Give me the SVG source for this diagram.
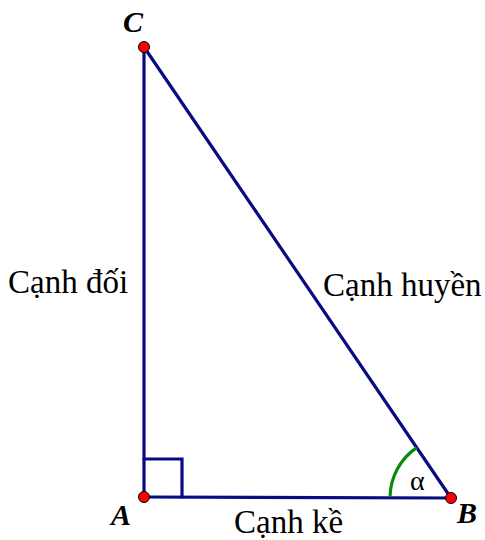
<svg xmlns="http://www.w3.org/2000/svg" width="485" height="540" viewBox="0 0 485 540">
<style>
.edge{stroke:#0a0a82;stroke-width:3.2;fill:none;stroke-linecap:round}
.pt{fill:#ff0000;stroke:#000;stroke-width:1}
.lbl{font-family:"Liberation Serif","Times New Roman",serif;font-size:33px;fill:#000}
.vx{font-family:"Liberation Serif","Times New Roman",serif;font-size:30px;font-weight:bold;font-style:italic;fill:#000}
</style>
<rect width="485" height="540" fill="#fff"/>
<g id="connectors">
<line class="edge" x1="144" y1="47" x2="144" y2="497"/>
<line class="edge" x1="144" y1="497" x2="451" y2="498"/>
<line class="edge" x1="144" y1="47" x2="451" y2="498"/>
<polyline class="edge" points="144,459 182,459 182,497"/>
<path d="M390,497 A61,61 0 0 1 416.7,447.6" stroke="#0a8a0a" stroke-width="3.2" fill="none"/>
</g>
<g id="C"><circle class="pt" cx="144" cy="47" r="5.5"/><text class="vx" x="123" y="32">C</text></g>
<g id="A"><circle class="pt" cx="144" cy="497" r="5.5"/><text class="vx" x="111" y="525">A</text></g>
<g id="B"><circle class="pt" cx="451" cy="498" r="5.5"/><text class="vx" x="457" y="523">B</text></g>
<g id="labels">
<text class="lbl" x="8" y="293">Cạnh đối</text>
<text class="lbl" x="323" y="296">Cạnh huyền</text>
<text class="lbl" x="234" y="533">Cạnh kề</text>
<text x="410" y="490" font-family="Liberation Serif,serif" font-size="28" fill="#000">α</text>
</g>
</svg>
